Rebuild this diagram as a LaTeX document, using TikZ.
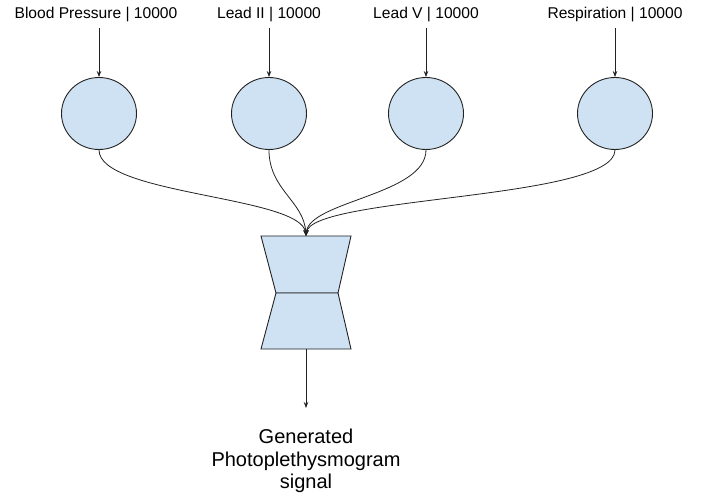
\documentclass[tikz,border=0pt]{standalone}
\usepackage{fontspec}
\setmainfont{Liberation Sans}
\usetikzlibrary{shapes.geometric,arrows.meta}
\definecolor{cellfill}{HTML}{CFE2F3}
\definecolor{edge}{HTML}{222222}
\begin{document}
\begin{tikzpicture}[x=1pt,y=-1pt,
  cell/.style={ellipse,draw=edge,line width=0.9pt,fill=cellfill,minimum width=75pt,minimum height=72pt,inner sep=0pt},
  inlabel/.style={font=\fontsize{15.6}{18}\selectfont,inner sep=0pt},
  link/.style={draw=edge,line width=0.8pt,-{Stealth[length=6pt,width=4.5pt]}},
  funnel/.style={draw=edge,line width=0.9pt,fill=cellfill,line join=miter}]
\useasboundingbox (0,0) rectangle (702,497);

% input labels
\node[inlabel] (lbp)  at (96,15)  {Blood Pressure | 10000};
\node[inlabel] (lii)  at (269,15) {Lead II | 10000};
\node[inlabel] (lv)   at (426,15) {Lead V | 10000};
\node[inlabel] (lres) at (615,15) {Respiration | 10000};

% input cells
\node[cell] (bp)  at (99,113.5)  {};
\node[cell] (ii)  at (269,113.5) {};
\node[cell] (v)   at (426,113.5) {};
\node[cell] (res) at (615,113.5) {};

% hourglass block
\coordinate (ftop) at (306,236);
\coordinate (fmid) at (306,293);
\coordinate (fbot) at (306,349);
\path[funnel] (261,236) -- (351,236) -- (338,293) -- (276,293) -- cycle;
\path[funnel] (276,293) -- (338,293) -- (351,349) -- (261,349) -- cycle;

% output
\coordinate (outend) at (306,408);
\node[font=\fontsize{20}{22.5}\selectfont,align=center,inner sep=0pt] (out) at (306,461)
  {Generated\\Photoplethysmogram\\signal};

% arrows into cells
\draw[link] (99,28) -- (bp.north);
\foreach \a/\b in {lii/ii,lv/v,lres/res}
  \draw[link] ([yshift=-5.5pt]\a.south) -- (\b.north);

% merging connectors
\draw[link] (bp.south)  .. controls +(0,45) and +(-5,-40) .. (ftop);
\draw[link] (ii.south)  .. controls +(0,40) and +(-2,-35) .. (ftop);
\draw[link] (v.south)   .. controls +(0,45) and +(3,-35) .. (ftop);
\draw[link] (res.south) .. controls +(0,50) and +(5,-40) .. (ftop);

% output arrow
\draw[link] (fbot) -- (outend);
\end{tikzpicture}
\end{document}
